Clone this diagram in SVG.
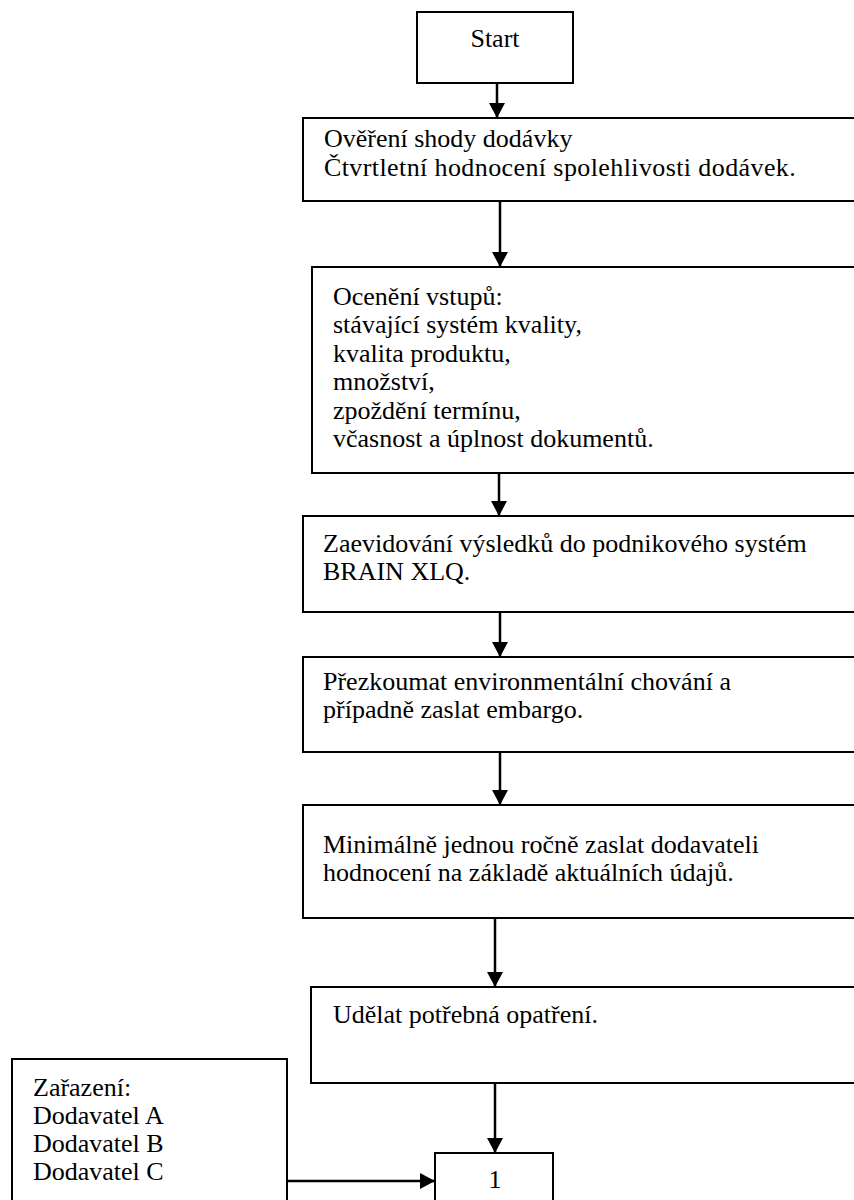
<svg xmlns="http://www.w3.org/2000/svg" width="854" height="1200" viewBox="0 0 854 1200">
<defs>
<style>
.box{fill:#fff;stroke:#000;stroke-width:2}
.t{font-family:"Liberation Serif","Times New Roman",serif;font-size:26px;fill:#000}
.c{stroke:#000;stroke-width:2.5;fill:none}
</style>
<marker id="ah" viewBox="0 0 15 16" refX="15" refY="8" markerWidth="15" markerHeight="16" markerUnits="userSpaceOnUse" orient="auto">
<path d="M0,0 L15,8 L0,16 z" fill="#000"/>
</marker>
</defs>
<rect width="854" height="1200" fill="#fff"/>
<g id="connectors">
<line class="c" x1="497" y1="83" x2="497" y2="118" marker-end="url(#ah)"/>
<line class="c" x1="500" y1="201" x2="500" y2="267" marker-end="url(#ah)"/>
<line class="c" x1="499" y1="473" x2="499" y2="516" marker-end="url(#ah)"/>
<line class="c" x1="500" y1="612" x2="500" y2="657" marker-end="url(#ah)"/>
<line class="c" x1="500" y1="752" x2="500" y2="805" marker-end="url(#ah)"/>
<line class="c" x1="495" y1="918" x2="495" y2="987" marker-end="url(#ah)"/>
<line class="c" x1="495" y1="1083" x2="495" y2="1153" marker-end="url(#ah)"/>
<line class="c" x1="287" y1="1181" x2="435" y2="1181" marker-end="url(#ah)"/>
</g>
<g id="start">
<rect class="box" x="417" y="12" width="156" height="71"/>
<text class="t" x="495" y="47" text-anchor="middle">Start</text>
</g>
<g id="overeni">
<rect class="box" x="303" y="118" width="570" height="83"/>
<text class="t" x="324" y="147">Ověření shody dodávky</text>
<text class="t" x="324" y="176" style="letter-spacing:0.4px">Čtvrtletní hodnocení spolehlivosti dodávek.</text>
</g>
<g id="oceneni">
<rect class="box" x="312" y="267" width="560" height="206"/>
<text class="t" x="333" y="305">Ocenění vstupů:</text>
<text class="t" x="333" y="333">stávající systém kvality,</text>
<text class="t" x="333" y="362">kvalita produktu,</text>
<text class="t" x="333" y="390">množství,</text>
<text class="t" x="333" y="419">zpoždění termínu,</text>
<text class="t" x="333" y="447">včasnost a úplnost dokumentů.</text>
</g>
<g id="zaevidovani">
<rect class="box" x="303" y="516" width="570" height="96"/>
<text class="t" x="323" y="552">Zaevidování výsledků do podnikového systém</text>
<text class="t" x="323" y="580">BRAIN XLQ.</text>
</g>
<g id="prezkoumat">
<rect class="box" x="303" y="657" width="570" height="95"/>
<text class="t" x="323" y="690">Přezkoumat environmentální chování a</text>
<text class="t" x="323" y="718">případně zaslat embargo.</text>
</g>
<g id="minimalne">
<rect class="box" x="303" y="805" width="570" height="113"/>
<text class="t" x="323" y="853">Minimálně jednou ročně zaslat dodavateli</text>
<text class="t" x="323" y="881">hodnocení na základě aktuálních údajů.</text>
</g>
<g id="udelat">
<rect class="box" x="311" y="987" width="560" height="96"/>
<text class="t" x="333" y="1023">Udělat potřebná opatření.</text>
</g>
<g id="zarazeni">
<rect class="box" x="12" y="1059" width="275" height="160"/>
<text class="t" x="33" y="1096">Zařazení:</text>
<text class="t" x="33" y="1124">Dodavatel A</text>
<text class="t" x="33" y="1152">Dodavatel B</text>
<text class="t" x="33" y="1180">Dodavatel C</text>
</g>
<g id="n1">
<rect class="box" x="435" y="1153" width="118" height="70"/>
<text class="t" x="495" y="1188" text-anchor="middle">1</text>
</g>
</svg>
